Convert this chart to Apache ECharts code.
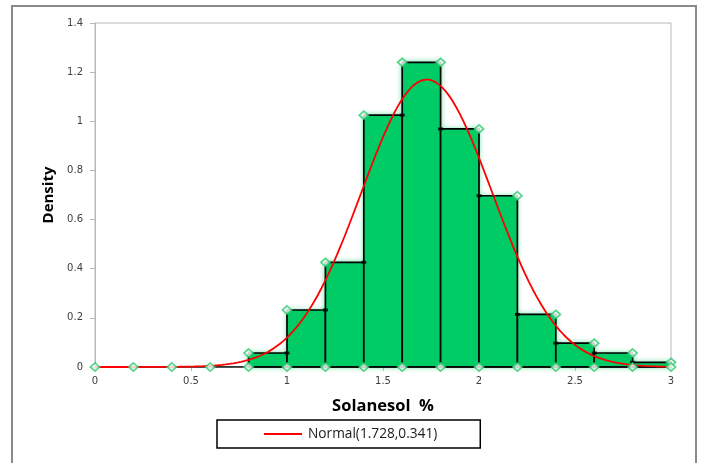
<!DOCTYPE html>
<html>
<head>
<meta charset="utf-8">
<script src="https://cdn.jsdelivr.net/npm/echarts@6/dist/echarts.min.js"></script>
<style>
  html, body { margin: 0; padding: 0; background: #ffffff; }
  #chart { width: 704px; height: 463px; }
</style>
</head>
<body>
<div id="chart"></div>
<script>
// Histogram bins of solanesol content (%), each 0.2 wide
const binStarts = [0.8, 1.0, 1.2, 1.4, 1.6, 1.8, 2.0, 2.2, 2.4, 2.6, 2.8];
const binEnds   = [1.0, 1.2, 1.4, 1.6, 1.8, 2.0, 2.2, 2.4, 2.6, 2.8, 3.0];
const densities = [0.057, 0.232, 0.426, 1.025, 1.240, 0.969, 0.697, 0.214, 0.097, 0.057, 0.019];

// Fitted normal distribution parameters (shown in the legend)
const normalMean = 1.728;
const normalSd = 0.341;

// Points along the empty left tail of the histogram
const zeroPoints = [0, 0.2, 0.4, 0.6];

// Axis ticks
const xTicks = [0, 0.5, 1, 1.5, 2, 2.5, 3];
const yTicks = [0, 0.2, 0.4, 0.6, 0.8, 1, 1.2, 1.4];

const legendName = 'Normal(' + normalMean + ',' + normalSd + ')';

// Bar rectangles: [start, end, density]
const barData = binStarts.map((s, i) => [s, binEnds[i], densities[i]]);

// Index of the tallest bin
const peak = densities.indexOf(Math.max(...densities));

// Outer corner markers (diamonds) and inner corner markers (small dashes)
const diamondPts = [];
const innerPts = [];
zeroPoints.forEach(x => diamondPts.push([x, 0]));
binStarts.forEach((s, i) => {
  diamondPts.push([s, 0]);
  if (i < peak) {
    diamondPts.push([s, densities[i]]);
    innerPts.push([binEnds[i], densities[i]]);
  } else if (i === peak) {
    diamondPts.push([s, densities[i]]);
    diamondPts.push([binEnds[i], densities[i]]);
  } else {
    diamondPts.push([binEnds[i], densities[i]]);
    innerPts.push([s, densities[i]]);
  }
});
diamondPts.push([binEnds[binEnds.length - 1], 0]);

// Normal density curve drawn from the stated parameters
const curve = [];
for (let k = 0; k <= 150; k++) {
  const x = k * 0.02;
  const z = (x - normalMean) / normalSd;
  curve.push([x, Math.exp(-0.5 * z * z) / (normalSd * Math.sqrt(2 * Math.PI))]);
}

const chart = echarts.init(document.getElementById('chart'), null, { renderer: 'canvas' });

const labelFont = { fontFamily: 'DejaVu Sans', fontSize: 10, color: '#404040' };

chart.setOption({
  animation: false,
  backgroundColor: '#ffffff',
  graphic: [{
    type: 'rect',
    silent: true,
    z: -1,
    shape: { x: 12, y: 6, width: 684, height: 480 },
    style: { fill: 'none', stroke: '#8a8a8a', lineWidth: 2 }
  }],
  grid: {
    left: 95, right: 33, top: 23, bottom: 96,
    show: true, borderColor: '#b8b8b8', borderWidth: 1, backgroundColor: 'transparent'
  },
  legend: {
    data: [{ name: legendName, icon: 'rect' }],
    left: 217, top: 420,
    padding: [7, 43, 7, 47],
    itemWidth: 38, itemHeight: 2, itemGap: 5,
    borderColor: '#000000', borderWidth: 1.5,
    textStyle: { fontFamily: 'Open Sans', fontSize: 13.7, color: '#202020', padding: [0, 0, 0, 1] }
  },
  xAxis: {
    type: 'value',
    min: 0, max: 3, interval: 0.5,
    name: 'Solanesol  %',
    nameLocation: 'middle',
    nameGap: 31,
    nameTextStyle: { fontFamily: 'Open Sans', fontWeight: 'bold', fontSize: 16.5, color: '#000000' },
    axisLine: { show: true, lineStyle: { color: '#b8b8b8', width: 1 } },
    axisTick: { show: true, length: 4, lineStyle: { color: '#b8b8b8' } },
    axisLabel: {
      ...labelFont, margin: 9,
      formatter: v => xTicks.includes(v) ? String(v) : ''
    },
    splitLine: { show: false }
  },
  yAxis: {
    type: 'value',
    min: 0, max: 1.4, interval: 0.2,
    name: 'Density',
    nameLocation: 'middle',
    nameGap: 38,
    nameRotate: 90,
    nameTextStyle: { fontFamily: 'Open Sans', fontWeight: 'bold', fontSize: 15, color: '#000000' },
    axisLine: { show: true, lineStyle: { color: '#b8b8b8', width: 1 } },
    axisTick: { show: true, length: 5, lineStyle: { color: '#b8b8b8' } },
    axisLabel: {
      ...labelFont, margin: 12,
      formatter: v => {
        const t = yTicks.find(y => Math.abs(y - v) < 1e-9);
        return t === undefined ? '' : String(t);
      }
    },
    splitLine: { show: false }
  },
  series: [
    {
      name: 'Histogram',
      type: 'custom',
      z: 2,
      data: barData,
      encode: { x: [0, 1], y: 2 },
      renderItem: (params, api) => {
        const topLeft = api.coord([api.value(0), api.value(2)]);
        const bottomRight = api.coord([api.value(1), 0]);
        return {
          type: 'rect',
          shape: {
            x: topLeft[0], y: topLeft[1],
            width: bottomRight[0] - topLeft[0],
            height: bottomRight[1] - topLeft[1]
          },
          style: {
            fill: '#00cc66', stroke: '#000000', lineWidth: 1.7,
            shadowBlur: 5, shadowColor: 'rgba(0, 204, 102, 0.45)'
          }
        };
      }
    },
    {
      name: 'Baseline',
      type: 'line',
      z: 3,
      data: [[0, 0], [3, 0]],
      symbol: 'none',
      lineStyle: { color: '#000000', width: 1.6 },
      silent: true
    },
    {
      name: legendName,
      type: 'line',
      z: 4,
      data: curve,
      symbol: 'none',
      smooth: false,
      lineStyle: { color: '#ff0000', width: 1.8 },
      itemStyle: { color: '#ff0000' }
    },
    {
      name: 'Inner corners',
      type: 'scatter',
      z: 5,
      data: innerPts,
      symbol: 'rect',
      symbolSize: [5, 3],
      itemStyle: { color: '#000000' },
      silent: true
    },
    {
      name: 'Corners',
      type: 'scatter',
      z: 6,
      data: diamondPts,
      symbol: 'diamond',
      symbolSize: [9, 8],
      itemStyle: { color: '#ffffff', borderColor: '#2ecc71', borderWidth: 1.8 },
      silent: true
    }
  ]
});
</script>
</body>
</html>
